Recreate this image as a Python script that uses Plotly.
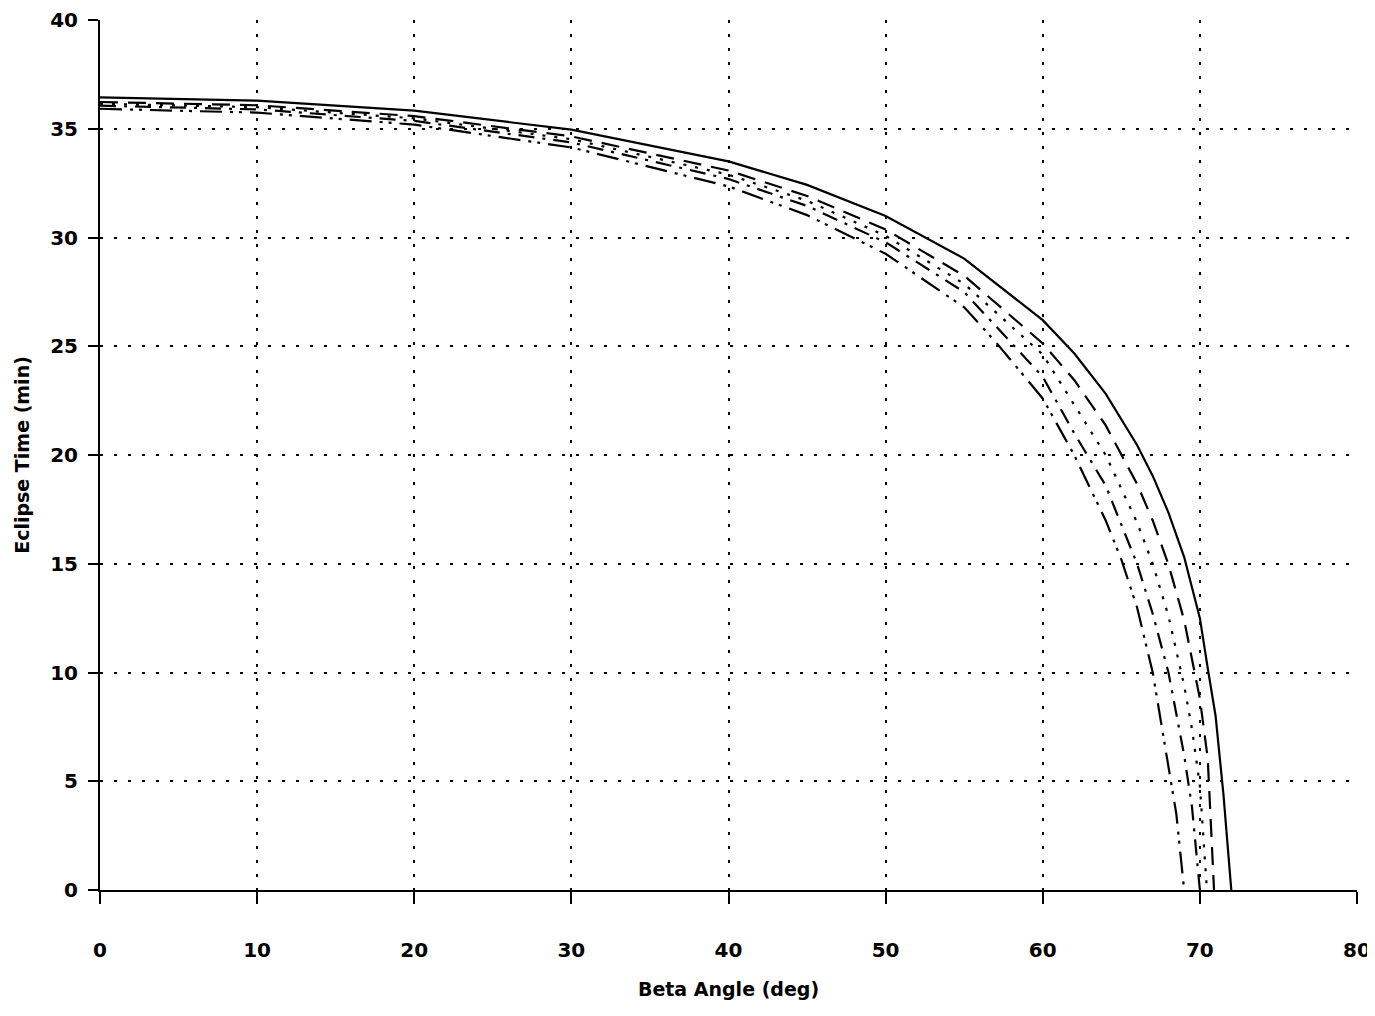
import plotly.graph_objects as go

# Beta angle (deg) and eclipse time (min) for each curve
beta_a = [0, 10, 20, 30, 40, 45, 50, 55, 60, 62, 64, 66, 67, 68, 69, 70, 70.5, 71, 71.5, 72]
time_a = [36.44, 36.29, 35.83, 34.96, 33.50, 32.42, 30.99, 29.03, 26.20, 24.68, 22.82, 20.46, 19.04, 17.35, 15.31, 12.5, 10.2, 8.0, 4.4, 0]

beta_b = [0, 10, 20, 30, 40, 45, 50, 55, 60, 62, 64, 66, 67, 68, 69, 70, 70.5, 70.9]
time_b = [36.23, 36.08, 35.58, 34.65, 33.08, 31.91, 30.37, 28.24, 25.13, 23.45, 21.37, 18.67, 16.99, 14.97, 12.41, 8.80, 6.05, 0]

beta_c = [0, 10, 20, 30, 40, 45, 50, 55, 60, 62, 64, 66, 67, 68, 69, 69.5, 70, 70.45]
time_c = [36.15, 35.99, 35.48, 34.52, 32.89, 31.69, 30.08, 27.87, 24.62, 22.3, 20.0, 16.9, 15.0, 12.6, 9.4, 7.4, 4.8, 0]

beta_d = [0, 10, 20, 30, 40, 45, 50, 55, 60, 62, 64, 66, 67, 68, 69, 69.5, 70]
time_d = [36.06, 35.89, 35.36, 34.37, 32.69, 31.45, 29.78, 27.49, 23.6, 21.0, 18.6, 15.0, 12.7, 10.0, 6.2, 3.8, 0]

beta_e = [0, 10, 20, 30, 40, 45, 50, 55, 57, 60, 62, 64, 65, 66, 67, 68, 68.5, 69]
time_e = [35.92, 35.74, 35.19, 34.14, 32.35, 31.03, 29.25, 26.79, 25.2, 22.6, 20.0, 17.0, 15.2, 13.0, 10.0, 5.8, 3.5, 0]

x_ticks = [0, 10, 20, 30, 40, 50, 60, 70, 80]
y_ticks = [0, 5, 10, 15, 20, 25, 30, 35, 40]

series = [
    (beta_a, time_a, "solid"),
    (beta_b, time_b, "18px,10px"),
    (beta_c, time_c, "3px,9px"),
    (beta_d, time_d, "16px,8px,3px,8px"),
    (beta_e, time_e, "22px,8px,3px,6px,3px,8px"),
]

fig = go.Figure()
for bx, ty, dash in series:
    fig.add_trace(go.Scatter(x=bx, y=ty, mode="lines",
                             line=dict(color="black", width=2.2, dash=dash),
                             showlegend=False, hoverinfo="skip"))

font_family = "'DejaVu Sans', sans-serif"

# the page body adds an 8px offset, so the figure is sized to fit the window
fig.update_layout(
    width=1367, height=1008,
    margin=dict(l=92, r=18, t=12, b=126),
    paper_bgcolor="white", plot_bgcolor="white",
    font=dict(family=font_family, color="black"),
    showlegend=False,
)
fig.update_xaxes(
    range=[0, 80], tickvals=x_ticks, ticktext=[str(v) for v in x_ticks],
    showgrid=True, gridcolor="black", gridwidth=2, griddash="3px,11px",
    zeroline=False, showline=True, linecolor="black", linewidth=2,
    ticks="outside", ticklen=12, tickwidth=1.5, tickcolor="black",
    tickfont=dict(size=20, weight="bold", family=font_family),
    ticklabelstandoff=29, automargin=False,
    title=dict(text="Beta Angle (deg)", font=dict(size=19, weight="bold", family=font_family), standoff=22),
)
fig.update_yaxes(
    range=[0, 40], tickvals=y_ticks, ticktext=[str(v) for v in y_ticks],
    showgrid=True, gridcolor="black", gridwidth=2, griddash="3px,11px",
    zeroline=False, showline=True, linecolor="black", linewidth=2,
    ticks="outside", ticklen=10, tickwidth=1.5, tickcolor="black",
    tickfont=dict(size=20, weight="bold", family=font_family),
    ticklabelstandoff=6, automargin=False,
    title=dict(text="Eclipse Time (min)", font=dict(size=19, weight="bold", family=font_family), standoff=16),
)

fig.write_html("out.html")
